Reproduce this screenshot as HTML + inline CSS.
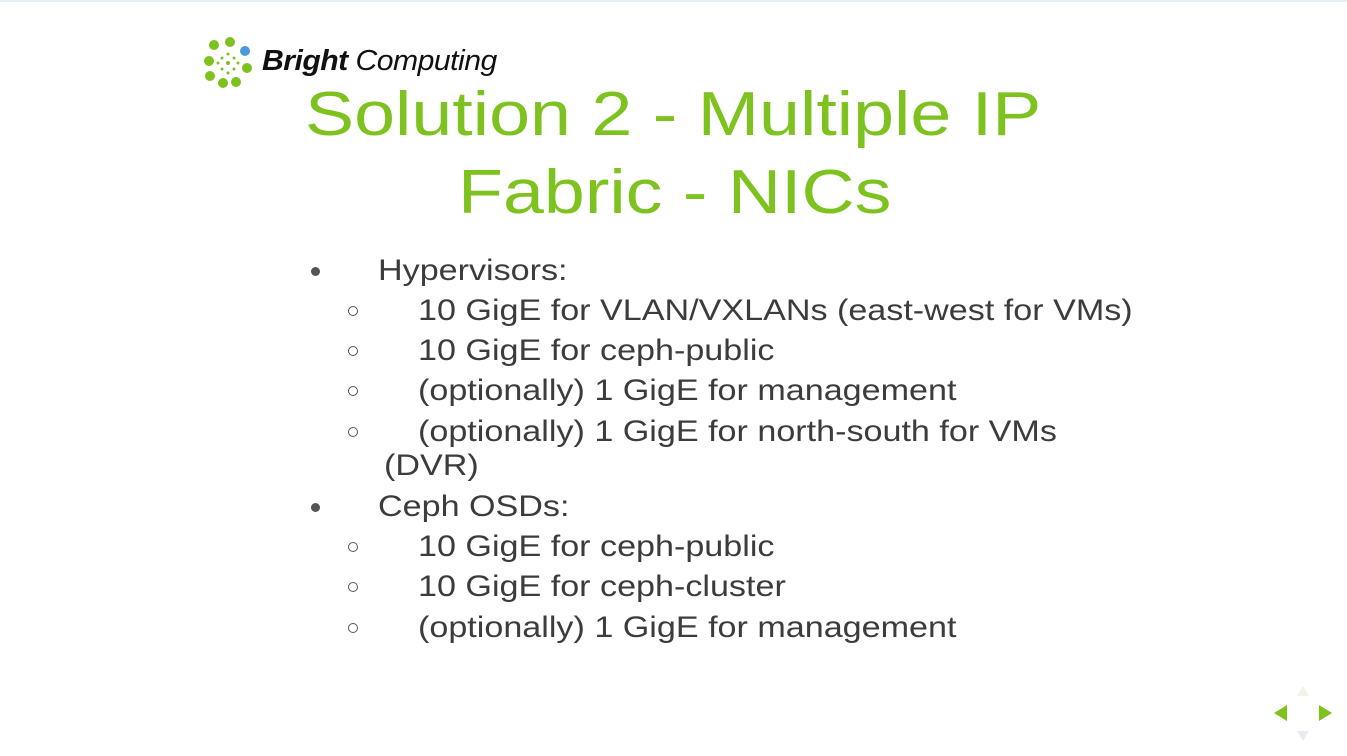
<!DOCTYPE html>
<html><head><style>
body{margin:0;width:1347px;height:756px;background:#fff;position:relative;overflow:hidden;font-family:"Liberation Sans",Arial,sans-serif;}
.t{position:absolute;color:#7dc21e;font-size:62px;white-space:nowrap;line-height:1;transform:scaleX(1.187);transform-origin:0 0;}
.l{position:absolute;color:#3c3c3c;font-size:30px;white-space:nowrap;line-height:1;transform:scaleX(1.137);transform-origin:0 0;}
.b{position:absolute;width:9px;height:9px;border-radius:50%;background:#555;}
.c{position:absolute;width:8px;height:8px;border-radius:50%;border:1.5px solid #555;}
</style></head><body>
<div style="position:absolute;left:0;top:0;width:1347px;height:2px;background:#e4eef4"></div>
<svg style="position:absolute;left:200px;top:36px" width="60" height="54">
<g fill="#7dc21e">
<circle cx="14" cy="9" r="5"/><circle cx="30" cy="6" r="5"/>
<circle cx="9" cy="25" r="5"/><circle cx="10" cy="40" r="5"/>
<circle cx="23" cy="47" r="5"/><circle cx="36" cy="46" r="5"/>
<circle cx="47" cy="32" r="5"/>
<circle cx="28" cy="27" r="2"/><circle cx="22" cy="22" r="1.5"/><circle cx="34" cy="22" r="1.5"/><circle cx="22" cy="33" r="1.5"/><circle cx="34" cy="33" r="1.5"/><circle cx="18" cy="27" r="1.5"/><circle cx="38" cy="27" r="1.5"/><circle cx="28" cy="18" r="1.5"/><circle cx="28" cy="37" r="1.5"/>
</g>
<circle cx="45" cy="15" r="5" fill="#4a9ad8"/>
</svg>
<div style="position:absolute;left:262px;top:47px;font-size:29px;color:#111;white-space:nowrap;line-height:1;letter-spacing:-0.5px;transform:scaleX(1.04);transform-origin:0 0"><b><i>Bright</i></b> <i style="font-weight:normal">Computing</i></div>
<div class="t" style="left:305px;top:84px">Solution 2 - Multiple IP</div>
<div class="t" style="left:458px;top:162px">Fabric - NICs</div>

<div class="b" style="left:311px;top:267px"></div><div class="l" style="left:378px;top:256px">Hypervisors:</div>
<div class="c" style="left:348px;top:306px"></div><div class="l" style="left:418px;top:296px">10 GigE for VLAN/VXLANs (east-west for VMs)</div>
<div class="c" style="left:348px;top:346px"></div><div class="l" style="left:418px;top:336px">10 GigE for ceph-public</div>
<div class="c" style="left:348px;top:386px"></div><div class="l" style="left:418px;top:376px">(optionally) 1 GigE for management</div>
<div class="c" style="left:348px;top:427px"></div><div class="l" style="left:418px;top:417px">(optionally) 1 GigE for north-south for VMs</div>
<div class="l" style="left:384px;top:451px">(DVR)</div>
<div class="b" style="left:311px;top:503px"></div><div class="l" style="left:378px;top:492px">Ceph OSDs:</div>
<div class="c" style="left:348px;top:542px"></div><div class="l" style="left:418px;top:532px">10 GigE for ceph-public</div>
<div class="c" style="left:348px;top:582px"></div><div class="l" style="left:418px;top:572px">10 GigE for ceph-cluster</div>
<div class="c" style="left:348px;top:623px"></div><div class="l" style="left:418px;top:613px">(optionally) 1 GigE for management</div>

<svg style="position:absolute;left:1270px;top:684px" width="70" height="60">
<polygon points="33,2 27,12 39,12" fill="#eef4e6"/>
<polygon points="27,47 39,47 33,57" fill="#e8ecf2"/>
<polygon points="4,29 17,21 17,37" fill="#7dc21e"/>
<polygon points="62,29 49,21 49,37" fill="#7dc21e"/>
</svg>
</body></html>
